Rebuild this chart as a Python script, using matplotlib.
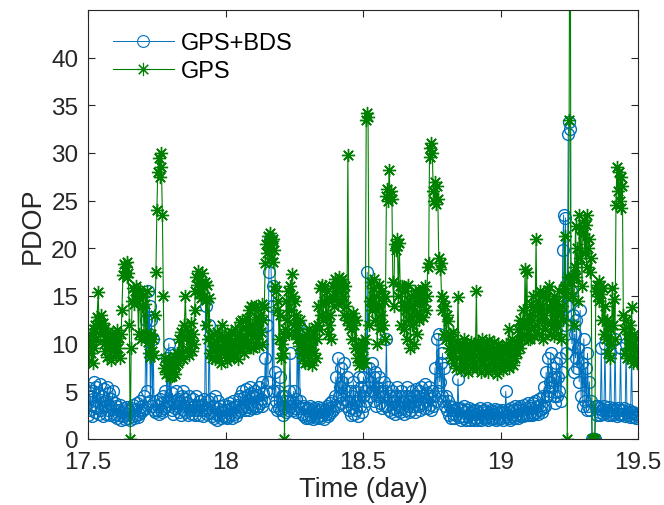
import numpy as np
import matplotlib
matplotlib.use("Agg")
import matplotlib.pyplot as plt

plt.rcParams['font.family'] = ['Liberation Sans', 'DejaVu Sans']

# Time axis (day), uniform sampling
t_start, t_end, n_samples = 17.5, 19.5, 600

# GPS+BDS PDOP (blue)
pdop_gps_bds = [
    2.5, 5.3, 3.0, 4.5, 2.4, 5.0, 3.5, 6.0, 2.8, 5.5, 3.2, 4.8, 2.6, 5.8, 3.0, 4.5, 2.4, 5.2, 3.5, 4.0, 2.6, 5.5, 3.0, 4.8, 2.5, 4.2, 3.2, 5.0, 2.4, 3.8,
    2.6, 3.5, 2.2, 3.0, 2.5, 3.6, 2.0, 2.8, 2.4, 3.2, 2.1, 3.0, 2.6, 3.4, 2.2, 2.9, 2.0, 3.2, 2.4, 3.6, 2.2, 3.0, 2.5, 3.8, 2.3, 3.0, 2.6, 4.0, 2.8, 3.5,
    3.0, 4.5, 3.2, 12.5, 5.0, 15.5, 11.0, 14.0, 4.0, 12.5, 3.5, 10.5, 3.0, 2.8, 4.0, 3.0, 3.5, 2.6, 4.2, 3.0, 3.8, 2.8, 4.5, 3.2, 5.0, 3.5, 8.5, 4.0, 10.0, 3.5,
    9.0, 3.0, 4.8, 2.6, 4.0, 3.2, 5.0, 3.5, 4.2, 2.8, 3.8, 2.5, 4.5, 3.0, 5.0, 3.5, 4.2, 2.8, 3.8, 2.5, 4.5, 3.0, 3.6, 2.6, 4.2, 3.0, 3.6, 2.5, 4.5, 3.0,
    3.5, 2.5, 4.0, 3.0, 3.6, 2.4, 4.2, 3.0, 14.0, 3.2, 2.6, 4.0, 12.0, 2.8, 4.2, 2.4, 3.5, 2.2, 4.5, 2.6, 3.2, 2.0, 4.0, 2.5, 3.5, 2.2, 3.0, 2.4, 3.6, 2.3,
    3.0, 2.2, 3.5, 2.4, 3.8, 2.6, 3.2, 2.2, 4.0, 2.6, 3.4, 2.4, 3.6, 2.8, 4.2, 3.0, 4.5, 3.2, 5.0, 3.5, 4.4, 3.0, 5.2, 3.4, 4.6, 3.0, 5.5, 3.6, 4.8, 3.2,
    4.5, 3.5, 5.0, 3.2, 4.6, 3.5, 5.5, 3.8, 4.2, 6.0, 3.5, 4.8, 4.0, 8.5, 5.0, 12.0, 6.0, 17.5, 21.0, 20.5, 14.0, 5.0, 16.0, 3.5, 7.0, 4.0, 3.0, 5.0, 3.2, 6.5,
    3.0, 4.5, 2.5, 3.5, 3.2, 4.5, 2.8, 4.0, 3.0, 5.0, 9.0, 3.5, 4.0, 3.0, 5.0, 3.2, 4.2, 2.8, 11.5, 3.5, 12.0, 4.0, 3.2, 2.6, 3.5, 2.4, 3.2, 2.2, 3.0, 2.5,
    3.2, 2.2, 3.5, 2.4, 3.0, 2.1, 3.3, 2.5, 2.9, 2.2, 3.4, 2.4, 3.0, 2.2, 3.2, 2.5, 2.8, 2.1, 3.0, 2.6, 3.5, 2.4, 3.2, 2.6, 3.8, 2.8, 4.0, 3.0, 3.6, 4.5,
    6.5, 3.5, 8.5, 4.5, 5.5, 7.5, 3.8, 6.0, 4.2, 8.0, 5.0, 3.5, 6.5, 4.0, 3.0, 5.0, 2.5, 4.5, 3.2, 6.0, 2.6, 5.0, 3.0, 4.0, 2.4, 6.5, 3.5, 5.5, 2.8, 4.5,
    6.5, 3.5, 5.0, 4.0, 17.5, 5.5, 7.5, 4.5, 6.0, 8.0, 5.0, 6.5, 4.0, 7.0, 3.5, 5.5, 4.5, 6.5, 3.8, 5.0, 3.2, 4.5, 6.0, 3.5, 5.0, 10.5, 3.5, 5.5, 3.0, 4.5,
    2.8, 5.0, 3.2, 4.0, 2.6, 4.5, 3.0, 5.5, 3.5, 4.5, 2.8, 5.0, 3.2, 4.0, 2.6, 4.5, 3.0, 5.5, 3.5, 4.5, 2.8, 4.0, 3.0, 5.0, 3.5, 4.5, 2.8, 5.2, 3.6, 4.5,
    3.5, 5.0, 3.0, 5.5, 3.8, 4.5, 3.2, 5.8, 4.0, 4.8, 3.2, 5.5, 3.6, 4.5, 3.0, 5.0, 3.5, 4.5, 7.5, 4.0, 10.5, 5.0, 11.0, 6.0, 8.0, 4.5, 9.0, 4.0, 7.5, 3.5,
    4.5, 3.0, 4.0, 2.5, 3.5, 2.2, 3.0, 2.6, 3.4, 2.2, 3.0, 2.5, 3.2, 6.3, 2.3, 3.2, 2.0, 3.0, 2.4, 3.5, 2.2, 2.8, 2.0, 3.0, 2.4, 3.2, 2.0, 2.8, 2.3, 3.0,
    2.0, 2.6, 2.2, 3.0, 2.0, 2.8, 2.3, 3.2, 2.0, 2.9, 2.4, 3.0, 2.1, 2.8, 2.3, 3.2, 2.0, 2.7, 2.4, 3.0, 2.1, 2.8, 2.2, 3.1, 2.0, 2.7, 2.3, 3.0, 2.1, 2.8,
    2.2, 3.0, 2.0, 2.8, 2.3, 5.0, 2.4, 3.0, 2.2, 2.8, 2.0, 3.2, 2.4, 3.0, 2.2, 3.5, 2.5, 3.0, 2.2, 3.2, 2.4, 3.5, 2.6, 3.0, 2.4, 3.6, 2.6, 3.2, 2.5, 3.8,
    2.5, 3.5, 2.8, 3.2, 2.5, 3.8, 2.6, 4.0, 2.8, 3.5, 2.6, 4.2, 3.0, 3.6, 2.8, 4.5, 3.2, 5.5, 3.5, 7.0, 4.5, 8.5, 5.0, 6.0, 9.0, 5.5, 7.5, 4.5, 6.5, 3.8,
    8.0, 4.5, 6.5, 5.0, 8.5, 4.0, 7.0, 19.8, 23.5, 12.0, 23.2, 9.0, 14.0, 32.0, 33.2, 32.5, 15.5, 10.0, 13.0, 7.0, 11.0, 8.5, 12.5, 7.5, 9.5, 6.0, 13.5, 4.5, 8.0, 3.5,
    10.5, 4.0, 7.5, 3.0, 9.0, 3.5, 6.0, 3.0, 4.0, 0.0, 0.0, 0.0, 0.0, 3.5, 2.5, 3.5, 2.8, 3.2, 2.5, 9.5, 3.0, 2.6, 3.5, 10.0, 2.8, 3.0, 2.5, 3.4, 2.6, 9.0,
    3.0, 2.5, 3.2, 2.6, 10.5, 3.0, 2.4, 3.2, 2.6, 3.0, 9.5, 2.5, 3.0, 2.6, 3.2, 2.4, 10.0, 2.8, 2.5, 3.0, 2.3, 2.8, 9.0, 2.4, 2.8, 2.3, 2.6, 2.2, 2.6, 2.4,
]

# GPS-only PDOP (green)
pdop_gps = [
    10.5, 8.2, 11.0, 9.0, 10.2, 8.0, 11.5, 9.5, 12.0, 10.5, 12.8, 15.4, 12.5, 11.0, 13.0, 11.5, 12.2, 10.0, 11.6, 9.2, 10.8, 8.6, 11.2, 9.4, 10.5, 8.3, 11.0, 9.6, 10.8, 9.0,
    10.2, 8.8, 11.4, 9.5, 10.6, 8.5, 11.0, 13.5, 17.2, 18.4, 17.6, 18.0, 17.0, 18.6, 17.4, 12.0, 0.0, 9.5, 14.5, 15.8, 14.2, 15.5, 16.0, 14.6, 15.2, 11.0, 14.8, 15.6, 10.5, 14.0,
    15.0, 10.8, 14.2, 11.0, 15.5, 10.2, 9.0, 10.8, 8.6, 11.0, 9.2, 10.5, 8.8, 13.0, 17.5, 24.0, 28.0, 29.5, 27.5, 30.0, 28.5, 23.5, 15.0, 7.5, 8.5, 6.8, 7.8, 7.0, 8.2, 6.5,
    7.6, 6.6, 8.4, 7.0, 8.7, 6.8, 7.8, 9.0, 8.0, 10.5, 8.6, 11.2, 9.0, 10.6, 8.4, 12.0, 15.0, 11.5, 9.4, 11.0, 8.8, 10.4, 12.2, 9.2, 11.0, 10.0, 13.5, 15.5, 17.0, 16.2,
    17.6, 15.2, 16.8, 14.8, 17.4, 16.0, 15.0, 16.5, 14.6, 12.0, 16.2, 10.5, 14.8, 9.0, 10.8, 8.5, 9.8, 11.0, 8.4, 10.2, 9.0, 11.2, 8.6, 10.5, 9.2, 8.0, 12.0, 9.5, 10.8, 8.8,
    10.3, 8.2, 11.0, 9.0, 10.5, 8.5, 11.2, 9.4, 10.0, 8.8, 11.5, 9.6, 10.8, 8.4, 11.0, 9.2, 12.3, 10.0, 12.5, 10.5, 9.0, 11.8, 9.8, 12.6, 10.2, 13.5, 11.0, 14.0, 9.6, 12.0,
    9.5, 13.8, 11.0, 14.0, 10.5, 12.8, 9.8, 13.0, 11.2, 14.2, 10.0, 12.5, 13.8, 18.5, 20.5, 19.5, 21.3, 20.0, 21.6, 19.0, 20.8, 18.6, 21.0, 19.8, 16.0, 15.5, 13.5, 14.5, 10.5, 13.0,
    8.5, 10.0, 9.0, 11.0, 0.0, 11.5, 14.5, 12.5, 15.5, 11.0, 16.0, 13.5, 17.3, 15.0, 12.0, 14.5, 11.0, 13.0, 10.5, 12.0, 9.8, 12.5, 9.0, 10.5, 8.5, 10.0, 8.0, 11.0, 9.0, 10.5,
    8.0, 11.5, 9.5, 10.8, 7.8, 11.0, 9.0, 11.8, 8.5, 10.5, 12.0, 14.0, 11.5, 15.8, 13.0, 16.2, 12.5, 14.5, 16.0, 12.8, 15.5, 11.0, 14.5, 12.0, 13.0, 10.5, 15.0, 16.0, 14.0, 16.8,
    15.0, 16.5, 14.2, 17.0, 15.5, 16.2, 14.5, 16.8, 15.0, 13.0, 16.0, 14.0, 12.5, 29.8, 12.0, 13.0, 11.5, 12.8, 10.5, 13.2, 12.0, 9.5, 12.5, 8.5, 10.0, 7.8, 9.5, 8.0, 10.2, 8.5,
    9.5, 8.0, 10.5, 33.5, 34.2, 33.8, 12.0, 14.5, 16.5, 13.5, 15.8, 14.0, 16.8, 12.5, 15.0, 10.0, 14.0, 16.2, 11.5, 13.0, 15.5, 12.0, 14.5, 10.5, 15.0, 25.5, 26.2, 25.0, 28.2, 25.5,
    26.0, 25.2, 16.5, 14.0, 20.5, 19.8, 21.0, 20.2, 15.0, 20.6, 16.0, 12.0, 16.0, 14.0, 11.5, 15.5, 13.5, 10.5, 16.2, 12.5, 14.5, 9.5, 15.0, 12.0, 14.0, 10.0, 15.5, 13.0, 11.0, 14.8,
    14.5, 12.5, 15.5, 13.0, 15.7, 12.8, 14.5, 16.0, 13.5, 15.0, 18.0, 18.5, 30.5, 29.6, 31.0, 30.0, 26.0, 25.0, 27.0, 24.6, 26.5, 25.2, 19.0, 17.8, 18.5, 15.0, 13.5, 14.5, 11.0, 14.0,
    10.5, 13.0, 12.4, 9.5, 11.0, 8.5, 10.5, 9.0, 11.2, 8.0, 9.5, 7.5, 10.2, 14.9, 8.5, 10.0, 7.2, 9.5, 8.0, 10.5, 7.5, 9.2, 8.0, 10.0, 7.0, 9.5, 8.5, 10.2, 7.4, 9.0,
    10.0, 8.0, 9.5, 15.5, 7.5, 10.2, 8.5, 9.8, 7.0, 10.5, 8.2, 9.5, 7.5, 10.0, 8.8, 9.2, 7.0, 10.4, 8.0, 9.6, 7.2, 9.0, 10.2, 7.8, 9.4, 6.8, 8.6, 10.0, 7.5, 9.2,
    8.0, 9.5, 7.2, 9.0, 7.8, 10.0, 8.2, 9.4, 11.5, 7.5, 9.5, 8.0, 10.5, 7.8, 9.8, 8.5, 10.2, 9.0, 11.5, 10.0, 12.5, 9.5, 12.0, 10.5, 13.5, 11.0, 17.8, 12.0, 17.5, 10.5,
    13.0, 10.5, 14.2, 11.5, 12.5, 15.0, 10.8, 13.5, 21.0, 12.0, 14.5, 11.0, 15.5, 12.5, 14.0, 10.5, 15.2, 13.0, 11.5, 14.8, 12.2, 15.6, 16.0, 13.5, 11.0, 14.5, 12.0, 15.0, 10.8, 13.8,
    12.0, 14.5, 11.0, 15.5, 13.0, 10.5, 14.0, 12.5, 15.8, 21.3, 16.0, 15.0, 0.0, 17.0, 33.5, 70.0, 16.5, 15.0, 17.0, 12.0, 18.0, 22.3, 17.0, 20.0, 14.5, 23.5, 19.0, 22.0, 16.0, 21.5,
    23.0, 19.5, 22.5, 18.0, 23.5, 20.0, 21.0, 17.5, 19.0, 0.0, 0.0, 0.0, 0.0, 15.5, 16.2, 15.0, 16.6, 14.5, 16.0, 15.2, 12.5, 15.8, 11.0, 14.0, 10.5, 12.5, 9.0, 12.0, 8.5, 11.5,
    10.0, 15.8, 12.0, 14.7, 10.5, 24.5, 28.5, 26.0, 28.0, 25.0, 27.5, 24.2, 26.5, 13.0, 11.5, 9.0, 12.5, 8.5, 11.0, 9.5, 12.0, 8.5, 13.8, 10.0, 8.0, 11.0, 8.5, 10.5, 8.0, 9.5,
]

x_ticks = [17.5, 18, 18.5, 19, 19.5]
x_tick_labels = ['17.5', '18', '18.5', '19', '19.5']
y_ticks = [0, 5, 10, 15, 20, 25, 30, 35, 40]

t = np.linspace(t_start, t_end, n_samples)

fig = plt.figure(figsize=(6.64, 5.06), dpi=100)
ax = fig.add_axes([88 / 664, 66 / 506, 550 / 664, 429 / 506])

blue = '#0072BD'
green = '#008000'
asterisk = (8, 2, 0)

ax.plot(t, pdop_gps_bds, color=blue, lw=0.7, marker='o', markersize=8.5,
        markerfacecolor='none', markeredgewidth=1.0, label='GPS+BDS')
ax.plot(t, pdop_gps, color=green, lw=0.8, marker=asterisk, markersize=9.5,
        markeredgewidth=1.0, label='GPS')

ax.set_xlim(17.5, 19.5)
ax.set_ylim(0, 45)
ax.set_xticks(x_ticks)
ax.set_xticklabels(x_tick_labels)
ax.set_yticks(y_ticks)
ax.tick_params(direction='in', length=5, width=0.8, colors='#262626',
               labelsize=17.5, top=True, right=True)
ax.tick_params(axis='x', pad=9)
ax.tick_params(axis='y', pad=7)
for sp in ax.spines.values():
    sp.set_color('#262626')
    sp.set_linewidth(0.8)

ax.set_xlabel('Time (day)', fontsize=19.5, color='#262626', labelpad=2)
ax.set_ylabel('PDOP', fontsize=19.5, color='#262626', labelpad=4)

leg = ax.legend(loc='upper left', frameon=False, fontsize=17, handlelength=2.6,
                handletextpad=0.3, labelspacing=0.25, borderaxespad=0.0, borderpad=0.0,
                bbox_to_anchor=(0.045, 0.948))
for h in leg.get_lines():
    h.set_markeredgewidth(0.8)

fig.savefig('out.png', dpi=100)
